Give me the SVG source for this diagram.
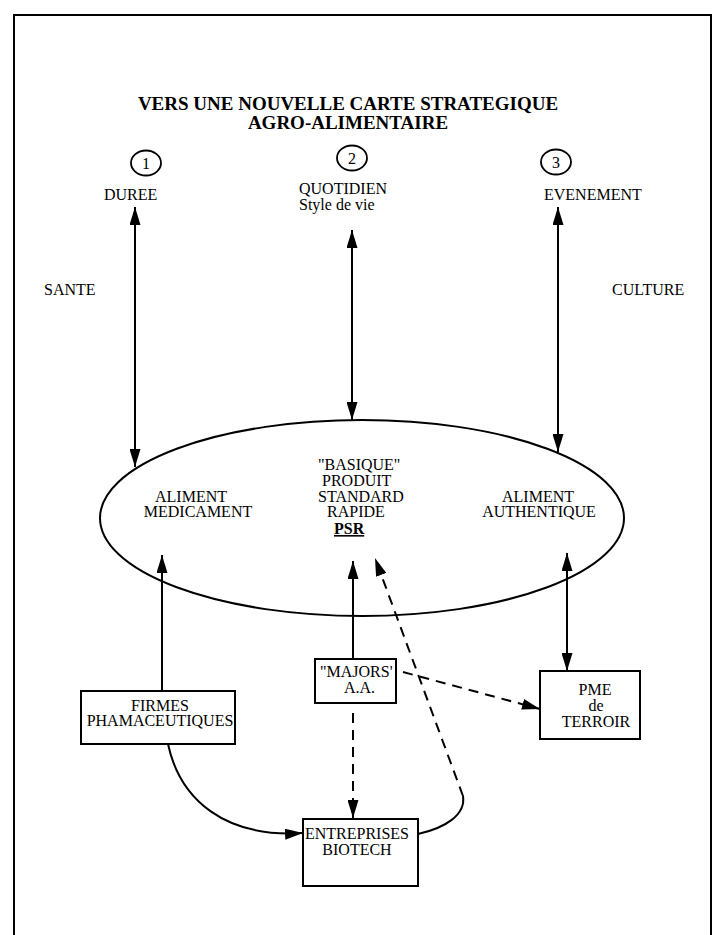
<svg xmlns="http://www.w3.org/2000/svg" width="723" height="935" viewBox="0 0 723 935">
<style>
text{font-family:"Liberation Serif","Times New Roman",serif;font-size:16px;fill:#000}
.title{font-weight:bold;font-size:19px;text-anchor:middle}
.mid{text-anchor:middle}
.ln{fill:none;stroke:#000;stroke-width:2}
.dash{fill:none;stroke:#000;stroke-width:2;stroke-dasharray:10 7}
.box{fill:#fff;stroke:#000;stroke-width:2}
</style>
<defs>
<marker id="ah" markerUnits="userSpaceOnUse" markerWidth="18" markerHeight="11" refX="18" refY="5.5" orient="auto-start-reverse">
<path d="M0,0 L18,5.5 L0,11 z" fill="#000"/>
</marker>
</defs>
<rect width="723" height="935" fill="#fff"/>
<path d="M14,950 L14,15 L711,15 L711,950" fill="none" stroke="#000" stroke-width="2"/>
<g id="title">
<text class="title" x="348" y="110">VERS UNE NOUVELLE CARTE STRATEGIQUE</text>
<text class="title" x="348" y="129">AGRO-ALIMENTAIRE</text>
</g>
<g id="pole1">
<ellipse cx="146" cy="163" rx="15" ry="12.5" fill="none" stroke="#000" stroke-width="1.8"/>
<text class="mid" x="146" y="169">1</text>
<text x="104" y="200">DUREE</text>
</g>
<g id="pole2">
<ellipse cx="352" cy="158" rx="15" ry="12.5" fill="none" stroke="#000" stroke-width="1.8"/>
<text class="mid" x="352" y="164">2</text>
<text x="299" y="194">QUOTIDIEN</text>
<text x="299" y="210">Style de vie</text>
</g>
<g id="pole3">
<ellipse cx="556" cy="162" rx="15" ry="12.5" fill="none" stroke="#000" stroke-width="1.8"/>
<text class="mid" x="556" y="168">3</text>
<text x="544" y="200">EVENEMENT</text>
</g>
<g id="sante"><text x="44" y="295">SANTE</text></g>
<g id="culture"><text x="612" y="295">CULTURE</text></g>
<g id="ellipse">
<ellipse cx="362" cy="518" rx="262" ry="98" fill="none" stroke="#000" stroke-width="2"/>
<text class="mid" x="191" y="502">ALIMENT</text>
<text class="mid" x="198" y="517">MEDICAMENT</text>
<text x="318" y="470">"BASIQUE"</text>
<text x="322" y="486">PRODUIT</text>
<text x="318" y="502">STANDARD</text>
<text x="327" y="517">RAPIDE</text>
<text x="334" y="534" font-weight="bold" text-decoration="underline">PSR</text>
<text class="mid" x="538" y="502">ALIMENT</text>
<text class="mid" x="539" y="517">AUTHENTIQUE</text>
</g>
<g id="firmes">
<rect class="box" x="81" y="691" width="154" height="53"/>
<text class="mid" x="160" y="711">FIRMES</text>
<text class="mid" x="160" y="726">PHAMACEUTIQUES</text>
</g>
<g id="majors">
<rect class="box" x="315" y="659" width="81" height="44"/>
<text x="320" y="677">"MAJORS'</text>
<text x="344" y="693">A.A.</text>
</g>
<g id="pme">
<rect class="box" x="540" y="671" width="100" height="68"/>
<text class="mid" x="595" y="695">PME</text>
<text class="mid" x="596" y="711">de</text>
<text class="mid" x="596" y="727">TERROIR</text>
</g>
<g id="biotech">
<rect class="box" x="303" y="819" width="115" height="67"/>
<text class="mid" x="357" y="839">ENTREPRISES</text>
<text class="mid" x="357" y="855">BIOTECH</text>
</g>
<g id="connectors">
<line class="ln" x1="135" y1="207" x2="135" y2="467" marker-start="url(#ah)" marker-end="url(#ah)"/>
<line class="ln" x1="352" y1="230" x2="352" y2="420" marker-start="url(#ah)" marker-end="url(#ah)"/>
<line class="ln" x1="558" y1="207" x2="558" y2="452" marker-start="url(#ah)" marker-end="url(#ah)"/>
<line class="ln" x1="162" y1="691" x2="162" y2="555" marker-end="url(#ah)"/>
<line class="ln" x1="353" y1="659" x2="353" y2="561" marker-end="url(#ah)"/>
<line class="ln" x1="567" y1="553" x2="567" y2="671" marker-start="url(#ah)" marker-end="url(#ah)"/>
<line class="dash" x1="353" y1="713" x2="353" y2="818" marker-end="url(#ah)"/>
<line class="dash" x1="403" y1="672" x2="540" y2="709" marker-end="url(#ah)"/>
<path class="ln" d="M168,744 C180,800 225,838 303,833" marker-end="url(#ah)"/>
<path class="ln" d="M418,834 C445,828 466,815 463,796"/>
<line class="dash" x1="463" y1="796" x2="375" y2="558" marker-end="url(#ah)"/>
</g>
</svg>
